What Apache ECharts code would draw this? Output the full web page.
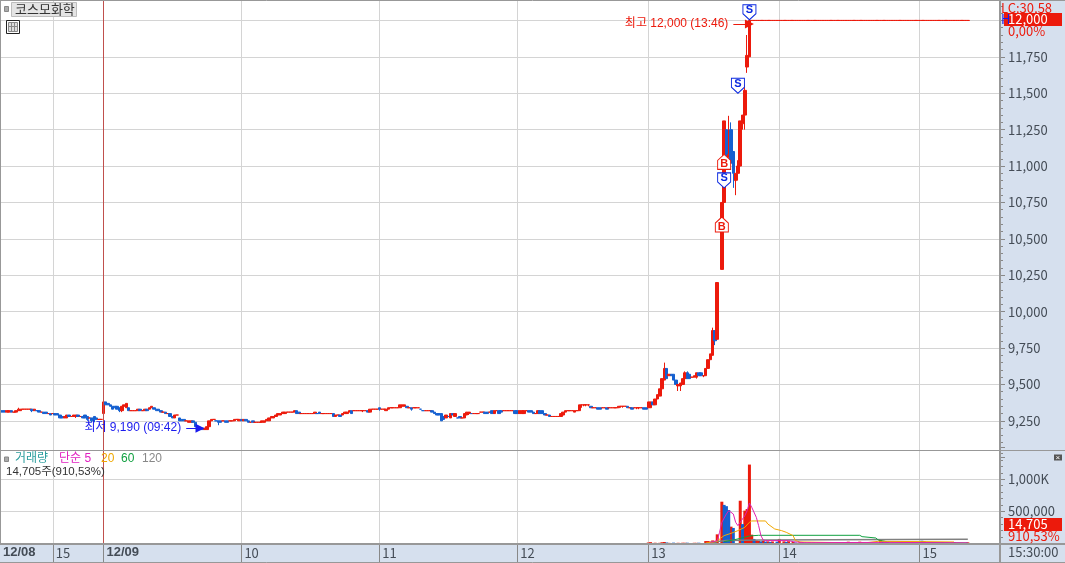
<!DOCTYPE html>
<html><head><meta charset="utf-8">
<style>html,body{margin:0;padding:0;background:#fff}#c{width:1065px;height:563px}</style>
<script src="https://cdn.jsdelivr.net/npm/echarts@6/dist/echarts.min.js"></script>
</head><body><div id="c"></div>
<script>
const tickLabels = {0:'12/08',23:'15',45:'12/09',105:'10',165:'11',225:'12',282:'13',339:'14',400:'15'};
const boldTicks = [0,45];
const barCount = 436;
const priceTicks = [9250,9500,9750,10000,10250,10500,10750,11000,11250,11500,11750];

const opens = [
9320,9320,9320,9310,9310,9320,9310,9310,9320,9320,
9330,9330,9330,9330,9330,9320,9320,9320,9310,9310,
9310,9300,9300,9300,9300,9300,9290,9280,9270,9270,
9290,9280,9280,9280,9290,9280,9280,9290,9280,9270,
9270,9280,9270,9260,9260,9300,9380,9370,9360,9350,
9350,9350,9340,9320,9350,9340,9340,9320,9320,9320,
9320,9330,9320,9320,9330,9330,9340,9340,9330,9330,
9320,9310,9310,9300,9300,9280,9270,9290,9270,9260,
9260,9250,9240,9240,9250,9240,9210,9200,9200,9190,
9190,9210,9250,9260,9250,9250,9250,9250,9250,9250,
9250,9250,9250,9260,9250,9260,9250,9260,9250,9240,
9250,9240,9240,9240,9240,9240,9250,9250,9270,9270,
9280,9290,9290,9300,9300,9310,9310,9310,9310,9320,
9310,9300,9300,9300,9300,9300,9300,9300,9300,9310,
9300,9300,9300,9300,9300,9300,9280,9290,9290,9290,
9300,9300,9310,9320,9320,9320,9320,9320,9320,9320,
9320,9310,9330,9330,9330,9340,9330,9330,9320,9330,
9340,9340,9340,9340,9340,9350,9350,9350,9340,9340,
9340,9340,9340,9330,9320,9320,9320,9320,9320,9310,
9300,9300,9300,9280,9270,9280,9270,9300,9280,9270,
9280,9270,9270,9290,9300,9300,9300,9300,9300,9310,
9310,9310,9310,9310,9320,9300,9320,9320,9320,9320,
9320,9320,9320,9320,9320,9320,9300,9300,9300,9320,
9320,9320,9310,9300,9300,9320,9320,9300,9290,9290,
9280,9280,9280,9280,9280,9290,9310,9320,9320,9320,
9310,9320,9320,9360,9360,9360,9360,9350,9340,9340,
9340,9340,9340,9340,9340,9340,9340,9340,9340,9340,
9350,9350,9350,9350,9340,9340,9340,9340,9340,9340,
9340,9340,9340,9340,9380,9360,9400,9420,9470,9530,
9610,9560,9570,9570,9530,9490,9490,9500,9540,9580,
9570,9550,9550,9550,9580,9580,9560,9560,9610,9670,
9700,9870,9810,null,10290,10750,11250,11060,11250,11100,
10900,10950,11000,11290,11350,11680,11750,12000,12000,12000,
12000,12000,12000,12000,12000,12000,12000,12000,12000,12000,
12000,12000,12000,12000,12000,12000,12000,12000,12000,12000,
12000,12000,12000,12000,12000,12000,12000,12000,12000,12000,
12000,12000,12000,12000,12000,12000,12000,12000,12000,12000,
12000,12000,12000,12000,12000,12000,12000,12000,12000,12000,
12000,12000,12000,12000,12000,12000,12000,12000,12000,12000,
12000,12000,12000,12000,12000,12000,12000,12000,12000,12000,
12000,12000,12000,12000,12000,12000,12000,12000,12000,12000,
12000,12000,12000,12000,12000,12000,12000,12000,12000,12000,
12000,12000];
const closes = [
9310,9310,9310,9320,9320,9310,9310,9320,9330,9330,
9330,9330,9330,9330,9320,9330,9320,9310,9310,9300,
9300,9300,9290,9300,9290,9290,9270,9270,9280,9290,
9280,9280,9290,9290,9280,9280,9270,9270,9260,9270,
9250,9260,9260,9260,9260,9380,9360,9360,9350,9330,
9340,9330,9320,9350,9360,9370,9320,9320,9320,9320,
9330,9320,9320,9330,9320,9340,9350,9330,9320,9320,
9310,9310,9300,9300,9280,9270,9290,9290,9250,9250,
9250,9250,9250,9250,9240,9210,9200,9190,9190,9200,
9210,9250,9260,9260,9250,9240,9240,9250,9240,9240,
9250,9250,9260,9260,9260,9250,9260,9250,9240,9240,
9240,9240,9240,9240,9250,9250,9260,9270,9280,9280,
9290,9300,9300,9310,9310,9310,9310,9310,9320,9300,
9300,9300,9300,9300,9300,9300,9300,9310,9300,9300,
9300,9300,9300,9300,9300,9280,9290,9290,9280,9300,
9310,9310,9320,9300,9320,9320,9320,9320,9320,9320,
9310,9330,9330,9330,9330,9330,9330,9330,9330,9340,
9340,9340,9340,9340,9360,9360,9360,9340,9340,9330,
9340,9340,9340,9330,9320,9320,9320,9320,9310,9300,
9290,9290,9250,9260,9290,9280,9300,9290,9300,9270,
9270,9270,9300,9310,9310,9300,9300,9300,9300,9310,
9310,9300,9300,9310,9300,9320,9320,9300,9310,9320,
9320,9320,9320,9320,9300,9300,9320,9320,9320,9320,
9310,9310,9300,9300,9320,9300,9300,9290,9290,9280,
9280,9280,9280,9280,9300,9310,9320,9320,9320,9320,
9320,9320,9360,9360,9360,9360,9360,9340,9340,9340,
9330,9330,9340,9340,9330,9340,9340,9340,9340,9350,
9350,9350,9350,9340,9340,9330,9340,9340,9340,9340,
9330,9330,9380,9380,9360,9400,9430,9470,9540,9610,
9540,9570,9560,9530,9500,9500,9510,9540,9580,9540,
9540,9550,9560,9580,9560,9560,9560,9610,9670,9710,
9870,9800,10200,null,10750,11310,11060,11080,11020,10950,
10950,11000,11310,11350,11520,11760,12000,12000,12000,12000,
12000,12000,12000,12000,12000,12000,12000,12000,12000,12000,
12000,12000,12000,12000,12000,12000,12000,12000,12000,12000,
12000,12000,12000,12000,12000,12000,12000,12000,12000,12000,
12000,12000,12000,12000,12000,12000,12000,12000,12000,12000,
12000,12000,12000,12000,12000,12000,12000,12000,12000,12000,
12000,12000,12000,12000,12000,12000,12000,12000,12000,12000,
12000,12000,12000,12000,12000,12000,12000,12000,12000,12000,
12000,12000,12000,12000,12000,12000,12000,12000,12000,12000,
12000,12000,12000,12000,12000,12000,12000,12000,12000,12000,
12000,12000];
const highWicks = [[8,9340],[45,9390],[55,9370],[289,9650],[298,9590],[299,9590],[310,9890],[317,11345],[318,11300],[321,11040],[322,11310],[324,11560],[325,11900]];
const lowWicks = [[14,9310],[29,9270],[33,9270],[38,9250],[40,9240],[41,9240],[52,9310],[53,9310],[95,9220],[158,9310],[161,9310],[165,9320],[179,9320],[204,9290],[253,9340],[254,9350],[255,9350],[256,9350],[270,9340],[271,9340],[277,9330],[278,9330],[287,9455],[295,9455],[296,9455],[303,9540],[306,9550],[311,9770],[316,11040],[319,10850],[320,10800],[321,10900],[323,11250],[324,11250],[325,11640]];
const signalsSell = [[326,12005],[321,11500],[315,10850]];
const signalsBuy = [[315,11080],[314,10650]];

const volumeUp = [[282,12000],[283,18000],[285,9000],[287,8000],[288,16000],[289,20000],[291,7000],[295,8000],[297,9000],[298,8000],[302,8000],[303,7000],[307,35000],[308,35000],[309,25000],[310,45000],[312,140000],[314,650000],[318,260000],[322,665000],[324,510000],[325,535000],[326,1230000],[327,135000],[329,45000],[330,38000],[332,42000],[334,30000],[336,28000],[339,68000],[341,30000],[343,32000],[345,20000],[348,15000],[352,12000],[356,14000],[360,10000],[364,12000],[369,25000],[374,25000],[383,55000],[385,18000],[392,12000],[402,30000],[404,14000],[410,15000],[415,14000],[421,14705]];
const volumeDown = [[290,12000],[293,10000],[299,9000],[304,9000],[311,30000],[315,600000],[316,580000],[317,520000],[319,240000],[323,300000],[328,68000],[331,30000],[333,25000],[335,20000],[338,25000],[342,22000],[346,12000],[350,14000],[354,12000],[358,10000],[362,10000],[384,30000],[386,20000],[401,40000],[403,16000],[412,12000]];
const ma5 = [[309,15000],[312,42000],[313,172000],[314,328000],[316,458000],[317,510000],[319,458000],[320,328000],[321,276000],[322,328000],[324,432000],[325,510000],[326,630000],[327,563000],[329,406000],[330,276000],[331,120000],[332,52000],[333,42000],[343,42000],[345,25000],[350,10000],[384,14000],[400,12000],[421,8000]];
const ma20 = [[307,5000],[312,26000],[313,68000],[315,120000],[318,156000],[321,198000],[324,250000],[326,328000],[327,349000],[333,349000],[334,302000],[337,224000],[340,198000],[342,172000],[345,120000],[346,42000],[348,21000],[366,10000],[377,10000],[382,31000],[402,26000],[415,21000]];
const ma60 = [[315,26000],[319,52000],[324,94000],[326,115000],[330,125000],[374,125000],[375,104000],[381,83000],[382,52000],[385,31000],[386,21000],[421,5000]];
const ma120 = [[309,15000],[316,42000],[331,52000],[421,62000]];

const RED='#ec1a0c', BLUE='#1560d0', INK='#444c56', GRID='#d4d4d4', FRAME='#989898', STRIP='#d6e0ee';
const MARK='#c0504d', BLUEINK='#1a1aee', NARROW='"Liberation Sans Narrow","Noto Sans CJK KR"', MIX='"Liberation Sans","Noto Sans CJK KR"';

const categories = [];
for (let i=0;i<barCount;i++) categories.push(tickLabels[i]!==undefined ? tickLabels[i] : String(i));
const isTick = i => tickLabels[i]!==undefined;
const highMap = Object.fromEntries(highWicks), lowMap = Object.fromEntries(lowWicks);
const candles = opens.map((o,i)=>{
  const c=closes[i];
  if(o===null) return ['-','-','-','-'];
  return [o,c,lowMap[i]!==undefined?lowMap[i]:Math.min(o,c),highMap[i]!==undefined?highMap[i]:Math.max(o,c)];
});
const txt=(x,y,t,color,font,size,extra)=>({type:'text',x,y,silent:true,z:50,style:Object.assign({text:t,fill:color,fontFamily:font||MIX,fontSize:size||12,verticalAlign:'middle',textVerticalAlign:'middle'},extra||{})});
const rect=(x,y,w,h,fill,stroke,z)=>({type:'rect',silent:true,z:z===undefined?40:z,shape:{x,y,width:w,height:h},style:{fill:fill,stroke:stroke||null,lineWidth:stroke?1:0}});
const line=(x1,y1,x2,y2,color,w,z)=>({type:'line',silent:true,z:z===undefined?30:z,shape:{x1,y1,x2,y2},style:{stroke:color,lineWidth:w||1}});

const chrome=[
  rect(1000,0,65,563,STRIP,null,-1),
  rect(0,544,1065,19,STRIP,null,-1),
  line(0,0.5,1065,0.5,FRAME),
  line(0.5,0,0.5,544,FRAME),
  line(0,450.5,1000,450.5,FRAME),
  line(1000,450.5,1065,450.5,FRAME),
  line(0,544,1065,544,FRAME,2),
  line(0,562.5,1065,562.5,FRAME),
  line(1000,0,1000,563,FRAME,2),
  rect(4.5,6.5,4,5,'#aaa','#888'),
  rect(11.5,2.5,65,14,'#e4e4e4','#bdbdbd'),
  txt(15,10,'코스모화학','#333',MIX,13),
  rect(6.5,20.5,13,13,'#fff','#222'),
  rect(8.5,22.5,9,9,'#ddd','#888'),
  line(11.5,22.5,11.5,31.5,'#888',1,41),
  line(14.5,22.5,14.5,31.5,'#888',1,41),
  line(8.5,26.5,17.5,26.5,'#888',1,41),
  txt(1001,8,'LC:30,58',RED,NARROW,13),
  txt(1001,19.5,'H',BLUEINK,NARROW,13),
  rect(1004,13,58,13,RED),
  txt(1008,19.5,'12,000','#fff',NARROW,13),
  txt(1008,31.5,'0,00%',RED,NARROW,13),
  rect(1054,454.5,8,6,'#555'),
  txt(1055.5,457.5,'×','#fff',MIX,8),
  rect(1004,518,58,13,RED),
  txt(1008,524.5,'14,705','#fff',NARROW,13),
  txt(1008,536.5,'910,53%',RED,NARROW,13),
  txt(1008,552.5,'15:30:00',INK,NARROW,13),
  rect(4.5,457,4,4.5,'#aaa','#888'),
  txt(15,459,'거래량','#2a9d9d',MIX,12),
  txt(59,459,'단순 5','#e020c0',MIX,12),
  txt(101,459,'20','#f0a800',MIX,12),
  txt(121,459,'60','#10a040',MIX,12),
  txt(142,459,'120','#888',MIX,12),
  txt(6,472,'14,705주(910,53%)','#333',MIX,11.5),
];

const lineSeries=(name,data,color,w)=>({name,type:'line',xAxisIndex:1,yAxisIndex:1,data,symbol:'none',z:5,lineStyle:{color,width:w||1},itemStyle:{color},silent:true});

const pentagonDown='path://M0,0 H13 V9 L6.5,15 L0,9 Z';
const pentagonUp='path://M6.5,0 L13,6 V15 H0 V6 Z';

const option={
  animation:false,backgroundColor:'#fff',
  graphic:{elements:chrome},
  grid:[
    {left:0,width:1000,top:0.5,height:456.75,containLabel:false},
    {left:0,width:1000,top:447.3,height:96,containLabel:false}
  ],
  xAxis:[
    {type:'category',gridIndex:0,data:categories,boundaryGap:false,axisLine:{show:false},axisTick:{show:false},axisLabel:{show:false},
     splitLine:{show:true,interval:(i)=>isTick(i)&&i!==0,lineStyle:{color:GRID,width:1}}},
    {type:'category',gridIndex:1,data:categories,boundaryGap:false,axisLine:{show:false},
     axisTick:{show:true,length:19,interval:(i)=>isTick(i)&&i!==0,lineStyle:{color:'#888',width:1}},
     splitLine:{show:true,interval:(i)=>isTick(i)&&i!==0,lineStyle:{color:GRID,width:1}},
     axisLabel:{show:true,interval:(i)=>isTick(i),hideOverlap:false,align:'left',margin:3,verticalAlign:'top',padding:[0,0,0,3],color:INK,fontFamily:NARROW,fontSize:13,
       formatter:(v,i)=>boldTicks.includes(i)?'{b|'+v+'}':v,
       rich:{b:{fontFamily:'"Liberation Sans"',fontWeight:'bold',fontSize:13,color:INK}}}}
  ],
  yAxis:[
    {type:'value',gridIndex:0,position:'right',min:9000,max:12137,interval:250,
     axisLine:{show:true,lineStyle:{color:FRAME,width:2}},
     axisTick:{show:true,length:5,lineStyle:{color:'#888'}},
     minorTick:{show:true,splitNumber:5,length:3,lineStyle:{color:'#888'}},
     splitLine:{show:true,showMinLine:false,showMaxLine:false,lineStyle:{color:GRID,width:1}},
     axisLabel:{show:true,margin:8,color:INK,fontFamily:NARROW,fontSize:13,
       formatter:v=>priceTicks.includes(v)?v.toLocaleString('en-US'):''}},
    {type:'value',gridIndex:1,position:'right',min:0,max:1500000,interval:500000,
     axisLine:{show:true,lineStyle:{color:FRAME,width:2}},
     axisTick:{show:true,length:5,lineStyle:{color:'#888'}},
     minorTick:{show:true,splitNumber:5,length:3,lineStyle:{color:'#888'}},
     splitLine:{show:true,showMinLine:false,showMaxLine:false,lineStyle:{color:GRID,width:1}},
     axisLabel:{show:true,margin:8,color:INK,fontFamily:NARROW,fontSize:13,
       formatter:v=>v===1000000?'1,000K':v===500000?'500,000':''}}
  ],
  series:[
    {name:'price',type:'candlestick',xAxisIndex:0,yAxisIndex:0,data:candles,barWidth:3,z:3,silent:true,clip:false,
     itemStyle:{color:RED,color0:BLUE,borderColor:RED,borderColor0:BLUE,borderWidth:1},
     markLine:{silent:true,animation:false,symbol:['none','none'],precision:0,
       data:[
         {xAxis:45,lineStyle:{color:MARK,width:1,type:'solid'},label:{show:false}},
         [{coord:[319,11975],symbol:'none',lineStyle:{color:RED,width:1,type:'solid'},
           label:{show:true,position:'start',distance:5,formatter:'최고 12,000 (13:46)',color:RED,fontFamily:MIX,fontSize:12}},
          {coord:[326,11975],symbol:'triangle',symbolSize:9}],
         [{coord:[81,9200],symbol:'none',lineStyle:{color:BLUEINK,width:1,type:'solid'},
           label:{show:true,position:'start',distance:5,formatter:'최저 9,190 (09:42)',color:BLUEINK,fontFamily:MIX,fontSize:12}},
          {coord:[87,9200],symbol:'triangle',symbolSize:9}]
       ]}},
    {name:'sell',type:'scatter',xAxisIndex:0,yAxisIndex:0,data:signalsSell,symbol:pentagonDown,symbolSize:[13,15],symbolOffset:[0,'-50%'],z:6,silent:true,
     itemStyle:{color:'#fff',borderColor:'#0a28e0',borderWidth:1,opacity:1},
     label:{show:true,position:'inside',offset:[0,-2],formatter:'S',color:'#0a28e0',fontFamily:MIX,fontWeight:'bold',fontSize:11}},
    {name:'buy',type:'scatter',xAxisIndex:0,yAxisIndex:0,data:signalsBuy,symbol:pentagonUp,symbolSize:[13,15],symbolOffset:[0,'50%'],z:6,silent:true,
     itemStyle:{color:'#fff',borderColor:RED,borderWidth:1,opacity:1},
     label:{show:true,position:'inside',offset:[0,2],formatter:'B',color:RED,fontFamily:MIX,fontWeight:'bold',fontSize:11}},
    {name:'volUp',type:'bar',xAxisIndex:1,yAxisIndex:1,data:volumeUp,barWidth:3,barGap:'-100%',itemStyle:{color:RED},z:3,silent:true,
     markLine:{silent:true,animation:false,symbol:['none','none'],data:[{xAxis:45,lineStyle:{color:MARK,width:1,type:'solid'},label:{show:false}}]}},
    {name:'volDown',type:'bar',xAxisIndex:1,yAxisIndex:1,data:volumeDown,barWidth:3,barGap:'-100%',itemStyle:{color:BLUE},z:3,silent:true},
    lineSeries('ma120',ma120,'#808080',1.5),
    lineSeries('ma60',ma60,'#10a040'),
    lineSeries('ma20',ma20,'#f0a800'),
    lineSeries('ma5',ma5,'#e020b0')
  ]
};
const chart=echarts.init(document.getElementById('c'),null,{renderer:'canvas',width:1065,height:563});
chart.setOption(option);
</script></body></html>
